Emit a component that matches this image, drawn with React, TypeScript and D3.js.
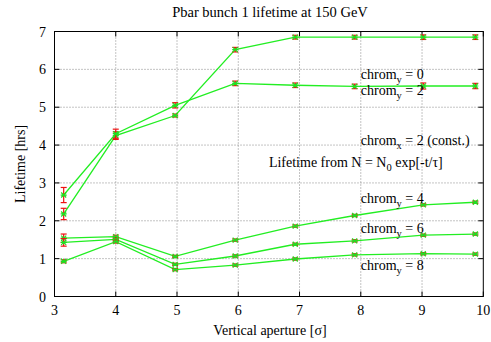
import React from 'react';
import * as d3 from 'd3';

// aperture scan points [sigma]
const aperture = [3.15, 4.0, 4.97, 5.95, 6.93, 7.9, 9.02, 9.87];

// lifetimes [hrs] per vertical chromaticity, with errors
const chromy0 = [2.18, 4.25, 4.78, 6.52, 6.85, 6.85, 6.85, 6.85];
const chromy0Err = [0.15, 0.1, 0.04, 0.06, 0.05, 0.05, 0.06, 0.06];
const chromy2 = [2.68, 4.3, 5.05, 5.63, 5.58, 5.55, 5.56, 5.56];
const chromy2Err = [0.2, 0.12, 0.07, 0.06, 0.06, 0.06, 0.08, 0.07];
const chromy4 = [1.54, 1.58, 1.06, 1.49, 1.86, 2.14, 2.42, 2.49];
const chromy4Err = [0.11, 0.04, 0.03, 0.03, 0.03, 0.03, 0.03, 0.03];
const chromy6 = [1.43, 1.51, 0.85, 1.07, 1.38, 1.47, 1.62, 1.65];
const chromy6Err = [0.1, 0.04, 0.03, 0.03, 0.03, 0.03, 0.03, 0.03];
const chromy8 = [0.93, 1.45, 0.71, 0.83, 0.99, 1.1, 1.13, 1.12];
const chromy8Err = [0.04, 0.04, 0.03, 0.03, 0.03, 0.03, 0.03, 0.03];

const xTicks = [3, 4, 5, 6, 7, 8, 9, 10];
const yTicks = [0, 1, 2, 3, 4, 5, 6, 7];

// curve labels: [chrom value, x, y] in data coords
const curveLabels: [string, number, number][] = [
  ['0', 8.0, 5.87],
  ['2', 8.0, 5.45],
  ['4', 8.0, 2.6],
  ['6', 8.0, 1.82],
  ['8', 8.0, 0.83],
];

const W = 491;
const H = 342;
const FONT = 'Liberation Serif, Times New Roman, serif';
const FS = 14;

export default function App() {
  const x = d3.scaleLinear().domain([3, 10]).range([54.5, 483.3]);
  const y = d3.scaleLinear().domain([0, 7]).range([296.5, 31.5]);

  const series = [
    { v: chromy0, e: chromy0Err },
    { v: chromy2, e: chromy2Err },
    { v: chromy4, e: chromy4Err },
    { v: chromy6, e: chromy6Err },
    { v: chromy8, e: chromy8Err },
  ];

  const line = d3.line<number>()
    .x((_, i) => x(aperture[i]))
    .y(d => y(d));

  const [x0, x1] = x.range();
  const [y0, y1] = y.range();

  return (
    <svg width={W} height={H} style={{ position: 'absolute', left: 0, top: 0, background: '#fff', fontFamily: FONT }}>
      {/* grid */}
      {xTicks.slice(1, -1).map(t => (
        <line key={'gx' + t} x1={x(t)} x2={x(t)} y1={y0} y2={y1}
          stroke="#888" strokeWidth={1} strokeDasharray="1,2" />
      ))}
      {yTicks.slice(1, -1).map(t => (
        <line key={'gy' + t} x1={x0} x2={x1} y1={y(t)} y2={y(t)}
          stroke="#888" strokeWidth={1} strokeDasharray="1,2" />
      ))}

      {/* ticks */}
      {xTicks.map(t => (
        <g key={'tx' + t}>
          <line x1={x(t)} x2={x(t)} y1={y0} y2={y0 - 5} stroke="#000" />
          <line x1={x(t)} x2={x(t)} y1={y1} y2={y1 + 5} stroke="#000" />
          <text x={x(t)} y={315} fontSize={FS} textAnchor="middle">{t}</text>
        </g>
      ))}
      {yTicks.map(t => (
        <g key={'ty' + t}>
          <line x1={x0} x2={x0 + 5} y1={y(t)} y2={y(t)} stroke="#000" />
          <line x1={x1} x2={x1 - 5} y1={y(t)} y2={y(t)} stroke="#000" />
          <text x={46} y={y(t) + 5} fontSize={FS} textAnchor="end">{t}</text>
        </g>
      ))}

      {/* curves */}
      {series.map((s, k) => (
        <g key={'s' + k}>
          <path d={line(s.v) || ''} fill="none" stroke="#22ee22" strokeWidth={1.3} />
          {s.v.map((v, i) => {
            const cx = x(aperture[i]);
            const cy = y(v);
            const top = y(v + s.e[i]);
            const bot = y(v - s.e[i]);
            return (
              <g key={i}>
                <line x1={cx} x2={cx} y1={top} y2={bot} stroke="#ee1111" strokeWidth={1.2} />
                <line x1={cx - 3} x2={cx + 3} y1={top} y2={top} stroke="#ee1111" strokeWidth={1.2} />
                <line x1={cx - 3} x2={cx + 3} y1={bot} y2={bot} stroke="#ee1111" strokeWidth={1.2} />
                <path d={`M${cx - 2.5},${cy - 2.5}L${cx + 2.5},${cy + 2.5}M${cx - 2.5},${cy + 2.5}L${cx + 2.5},${cy - 2.5}M${cx - 3},${cy}L${cx + 3},${cy}`}
                  stroke="#22dd22" strokeWidth={1.2} />
              </g>
            );
          })}
        </g>
      ))}

      {/* frame */}
      <rect x={x0} y={y1} width={x1 - x0} height={y0 - y1} fill="none" stroke="#000" strokeWidth={1} />

      {/* labels */}
      {curveLabels.map(([c, lx, ly]) => (
        <text key={'cl' + c} x={x(lx)} y={y(ly) + 5} fontSize={FS}>
          chrom<tspan fontSize={10.5} dy={4}>y</tspan><tspan dy={-4}> = {c}</tspan>
        </text>
      ))}
      <text x={x(8.0)} y={y(4.13) + 5} fontSize={FS}>
        chrom<tspan fontSize={10.5} dy={4}>x</tspan><tspan dy={-4}> = 2 (const.)</tspan>
      </text>
      <text x={x(6.5)} y={y(3.56) + 5} fontSize={FS}>
        Lifetime from N = N<tspan fontSize={10.5} dy={4}>0</tspan><tspan dy={-4}> exp[-t/τ]</tspan>
      </text>

      <text x={270} y={17} fontSize={14.5} textAnchor="middle">Pbar bunch 1 lifetime at 150 GeV</text>
      <text x={270} y={335} fontSize={FS} textAnchor="middle">Vertical aperture [σ]</text>
      <text transform={`translate(25,${(y0 + y1) / 2}) rotate(-90)`} fontSize={FS} textAnchor="middle">Lifetime [hrs]</text>
    </svg>
  );
}
